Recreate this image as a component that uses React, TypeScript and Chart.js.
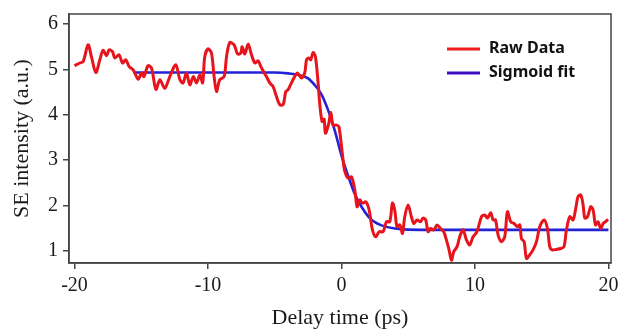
import React, { useEffect, useRef } from "react";
import { Chart, registerables } from "chart.js";

Chart.register(...registerables);

// Raw data (delay time in ps, SE intensity in a.u.)
const rawX = [
  -20.0, -19.6, -19.35, -18.98, -18.73, -18.4, -18.1, -17.86, -17.6, -17.4, -17.15, -16.98, -16.66, -16.4, -16.16, -15.9,
  -15.6, -15.23, -14.98, -14.8, -14.49, -14.23, -13.9, -13.6, -13.24, -12.86, -12.41, -12.1, -11.87, -11.61, -11.36, -11.1,
  -10.86, -10.6, -10.4, -10.24, -10.0, -9.74, -9.54, -9.36, -9.12, -8.79, -8.61, -8.37, -8.04, -7.79, -7.54, -7.44,
  -7.24, -6.99, -6.74, -6.49, -6.25, -6.04, -5.8, -5.62, -5.37, -5.12, -4.87, -4.62, -4.37, -4.17, -4.0, -3.75,
  -3.5, -3.3, -3.0, -2.75, -2.62, -2.45, -2.3, -2.13, -1.95, -1.75, -1.63, -1.45, -1.3, -1.2, -0.95, -0.8,
  -0.63, -0.37, -0.2, -0.05, 0.12, 0.25, 0.5, 0.75, 1.0, 1.17, 1.37, 1.57, 1.82, 2.07, 2.32, 2.57,
  2.82, 3.12, 3.37, 3.62, 3.82, 3.99, 4.16, 4.37, 4.57, 4.74, 4.99, 5.24, 5.42, 5.66, 5.92, 6.11,
  6.31, 6.49, 6.67, 6.91, 7.16, 7.42, 7.66, 7.86, 8.06, 8.24, 8.41, 8.66, 8.86, 9.11, 9.36, 9.61,
  9.86, 10.15, 10.49, 10.73, 10.94, 11.18, 11.36, 11.54, 11.73, 11.98, 12.23, 12.43, 12.68, 12.93, 13.18, 13.36,
  13.48, 13.68, 13.86, 14.1, 14.35, 14.61, 14.85, 15.18, 15.43, 15.6, 15.78, 16.1, 16.43, 16.67, 16.85, 17.1,
  17.35, 17.53, 17.72, 17.93, 18.1, 18.23, 18.43, 18.67, 18.85, 19.03, 19.22, 19.42, 19.6, 19.78, 19.97,
];
const rawY = [
  5.08, 5.14, 5.17, 5.54, 5.28, 4.93, 5.21, 5.42, 5.3, 5.43, 5.39, 5.25, 5.32, 5.14, 5.21, 5.06,
  4.99, 4.78, 4.92, 4.84, 5.08, 5.03, 4.56, 4.77, 4.58, 4.84, 5.1, 4.77, 4.7, 4.92, 4.66, 4.84,
  4.7, 4.88, 4.7, 5.28, 5.45, 5.36, 4.84, 4.51, 4.77, 4.84, 5.28, 5.59, 5.54, 5.34, 5.36, 5.5,
  5.34, 5.56, 5.32, 5.14, 5.19, 5.06, 4.93, 4.84, 4.7, 4.62, 4.4, 4.22, 4.22, 4.51, 4.55, 4.7,
  4.84, 4.92, 4.81, 4.92, 5.21, 5.25, 5.21, 5.37, 5.28, 4.7, 4.25, 3.85, 3.9, 3.59, 3.81, 4.05,
  3.77, 3.77, 3.74, 3.44, 3.0, 2.75, 2.6, 2.63, 2.34, 1.97, 2.12, 2.05, 2.08, 1.9, 1.46, 1.31,
  1.42, 1.42, 1.64, 1.64, 2.05, 1.9, 1.53, 1.57, 1.38, 1.75, 2.01, 1.75, 1.6, 1.68, 1.64, 1.72,
  1.68, 1.42, 1.49, 1.46, 1.57, 1.49, 1.42, 1.24, 1.02, 0.79, 0.98, 1.09, 1.31, 1.46, 1.24, 1.13,
  1.31, 1.42, 1.75, 1.79, 1.72, 1.84, 1.68, 1.68, 1.35, 1.2, 1.31, 1.86, 1.64, 1.6, 1.53, 1.57,
  1.27, 1.2, 0.83, 0.91, 1.02, 1.2, 1.53, 1.68, 1.49, 1.09, 1.02, 1.03, 1.05, 1.09, 1.46, 1.75,
  1.68, 1.9, 2.19, 2.23, 2.01, 1.72, 1.75, 1.97, 1.9, 1.57, 1.64, 1.49, 1.6, 1.64, 1.69,
];

// Sigmoid fit curve
const fitX = [-15.6, -10, -5, -4, -3, -2.5, -2, -1.5, -1, -0.5, 0, 0.5, 1, 1.5, 2, 2.5, 3, 4, 5, 7, 20];
const fitY = [4.93, 4.93, 4.93, 4.91, 4.86, 4.8, 4.65, 4.45, 4.1, 3.65, 3.1, 2.65, 2.25, 1.97, 1.76, 1.63, 1.56, 1.49, 1.465, 1.46, 1.46];

const xTicks = [-20, -10, 0, 10, 20];
const yTicks = [1, 2, 3, 4, 5, 6];

const legendLabels = ["Raw Data", "Sigmoid fit"];
const legendColors = ["#ee1c1c", "#3c10c0"];

const AXIS = "#444";
const SERIF = '"Liberation Serif", "Times New Roman", serif';

export default function App() {
  const ref = useRef<HTMLCanvasElement | null>(null);

  useEffect(() => {
    if (!ref.current) return;
    const frame = {
      id: "frame",
      afterDatasetsDraw(chart: any) {
        const { ctx, chartArea } = chart;
        ctx.save();
        ctx.strokeStyle = AXIS;
        ctx.lineWidth = 1.5;
        ctx.strokeRect(chartArea.left, chartArea.top, chartArea.right - chartArea.left, chartArea.bottom - chartArea.top);
        // legend
        const lx0 = 447, lx1 = 480, tx = 489;
        const ys = [49, 73];
        ctx.font = 'bold 16px "Noto Sans", sans-serif';
        ctx.textBaseline = "middle";
        ctx.textAlign = "left";
        legendLabels.forEach((lab, i) => {
          ctx.strokeStyle = legendColors[i];
          ctx.lineWidth = 3;
          ctx.beginPath();
          ctx.moveTo(lx0, ys[i]);
          ctx.lineTo(lx1, ys[i]);
          ctx.stroke();
          ctx.fillStyle = "#111";
          ctx.fillText(lab, tx, ys[i] - 1);
        });
        ctx.restore();
      },
    };
    const chart = new Chart(ref.current, {
      type: "line",
      data: {
        datasets: [
          {
            label: legendLabels[0],
            data: rawX.map((x, i) => ({ x, y: rawY[i] })),
            borderColor: "#e8141c",
            borderWidth: 3,
            pointRadius: 0,
            tension: 0.3,
            fill: false,
          },
          {
            label: legendLabels[1],
            data: fitX.map((x, i) => ({ x, y: fitY[i] })),
            borderColor: "#2222d8",
            borderWidth: 2.6,
            pointRadius: 0,
            cubicInterpolationMode: "monotone",
            fill: false,
          },
        ],
      },
      options: {
        responsive: false,
        animation: false,
        events: [],
        layout: { padding: { left: 0, right: 8, top: 14, bottom: 0 } },
        plugins: { legend: { display: false }, tooltip: { enabled: false } },
        scales: {
          x: {
            type: "linear",
            min: -20.41,
            max: 20.19,
            afterBuildTicks: (s: any) => {
              s.ticks = xTicks.map((v) => ({ value: v }));
            },
            afterFit: (s: any) => {
              s.height = 68;
              s.paddingLeft = 0;
              s.paddingRight = 0;
            },
            grid: { drawOnChartArea: false, drawTicks: true, tickLength: 6, color: AXIS, lineWidth: 1.5 },
            border: { display: true, color: AXIS, width: 1.5 },
            ticks: { color: "#1a1a1a", font: { family: SERIF, size: 20 }, padding: 5, maxRotation: 0 },
            title: { display: true, text: "Delay time (ps)", color: "#1a1a1a", font: { family: SERIF, size: 22 }, padding: { top: 0, bottom: 0 } },
          },
          y: {
            type: "linear",
            min: 0.73,
            max: 6.22,
            afterBuildTicks: (s: any) => {
              s.ticks = yTicks.map((v) => ({ value: v }));
            },
            afterFit: (s: any) => {
              s.width = 69;
              s.paddingTop = 0;
              s.paddingBottom = 0;
            },
            grid: { drawOnChartArea: false, drawTicks: true, tickLength: 6, color: AXIS, lineWidth: 1.5 },
            border: { display: true, color: AXIS, width: 1.5 },
            ticks: { color: "#1a1a1a", font: { family: SERIF, size: 20 }, padding: 5 },
            title: { display: true, text: "SE intensity (a.u.)", color: "#1a1a1a", font: { family: SERIF, size: 22 }, padding: { top: 9, bottom: 0 } },
          },
        },
      },
      plugins: [frame],
    } as any);
    return () => chart.destroy();
  }, []);

  return (
    <div style={{ position: "fixed", left: 0, top: 0, width: 619, height: 331, background: "#fff" }}>
      <canvas ref={ref} width={619} height={331} style={{ display: "block" }} />
    </div>
  );
}
